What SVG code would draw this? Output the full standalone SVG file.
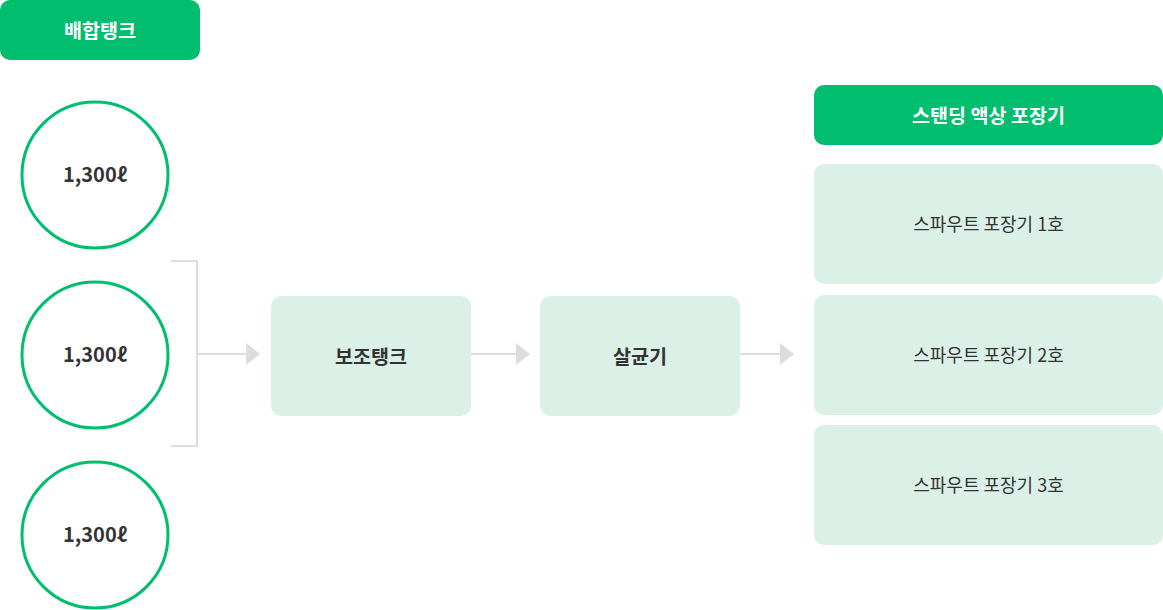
<svg xmlns="http://www.w3.org/2000/svg" width="1163" height="610" viewBox="0 0 1163 610">
<style>
.hdr{fill:#00be6e}
.hdrt{fill:#fff;font-family:"Noto Sans CJK KR","Noto Sans",sans-serif;font-size:19.6px;font-weight:700;text-anchor:middle;dominant-baseline:central}
.tank{fill:#fff;stroke:#00be6e;stroke-width:3}
.tankt{fill:#333;font-family:"Noto Sans CJK KR","Noto Sans",sans-serif;font-size:20px;font-weight:700;text-anchor:middle;dominant-baseline:central}
.box{fill:#dbf1e8}
.boxt{fill:#333;font-family:"Noto Sans CJK KR","Noto Sans",sans-serif;font-size:19.6px;font-weight:700;text-anchor:middle;dominant-baseline:central}
.rowt{fill:#333;font-family:"Noto Sans CJK KR","Noto Sans",sans-serif;font-size:18px;font-weight:400;text-anchor:middle;dominant-baseline:central}
.conn{fill:none;stroke:#dddddd;stroke-width:2}
.head{fill:#dddddd}
</style>
<g id="mix-header"><rect class="hdr" x="0" y="0" width="200" height="60" rx="10"/><text class="hdrt" x="100" y="29">배합탱크</text></g>
<g id="tank1"><circle class="tank" cx="95" cy="175" r="73"/><text class="tankt" x="95" y="173">1,300ℓ</text></g>
<g id="tank2"><circle class="tank" cx="95" cy="355" r="73"/><text class="tankt" x="95" y="353">1,300ℓ</text></g>
<g id="tank3"><circle class="tank" cx="95" cy="535" r="73"/><text class="tankt" x="95" y="533">1,300ℓ</text></g>
<g id="aux-tank"><rect class="box" x="271" y="296" width="200" height="120" rx="10"/><text class="boxt" x="371" y="355">보조탱크</text></g>
<g id="sterilizer"><rect class="box" x="540" y="296" width="200" height="120" rx="10"/><text class="boxt" x="640" y="355">살균기</text></g>
<g id="pack-header"><rect class="hdr" x="814" y="85" width="349" height="60" rx="10"/><text class="hdrt" x="988.5" y="114">스탠딩 액상 포장기</text></g>
<g id="spout1"><rect class="box" x="814" y="164" width="349" height="120" rx="10"/><text class="rowt" x="988.5" y="223">스파우트 포장기 1호</text></g>
<g id="spout2"><rect class="box" x="814" y="295" width="349" height="120" rx="10"/><text class="rowt" x="988.5" y="354">스파우트 포장기 2호</text></g>
<g id="spout3"><rect class="box" x="814" y="425" width="349" height="120" rx="10"/><text class="rowt" x="988.5" y="484">스파우트 포장기 3호</text></g>
<g id="connectors">
<path class="conn" d="M171 261 H197 V446 H171"/>
<path class="conn" d="M197 354 H247"/>
<polygon class="head" points="246,343 260,354 246,365"/>
<path class="conn" d="M471 354 H517"/>
<polygon class="head" points="516,343 530,354 516,365"/>
<path class="conn" d="M740 354 H781"/>
<polygon class="head" points="780,343 794,354 780,365"/>
</g>
</svg>
